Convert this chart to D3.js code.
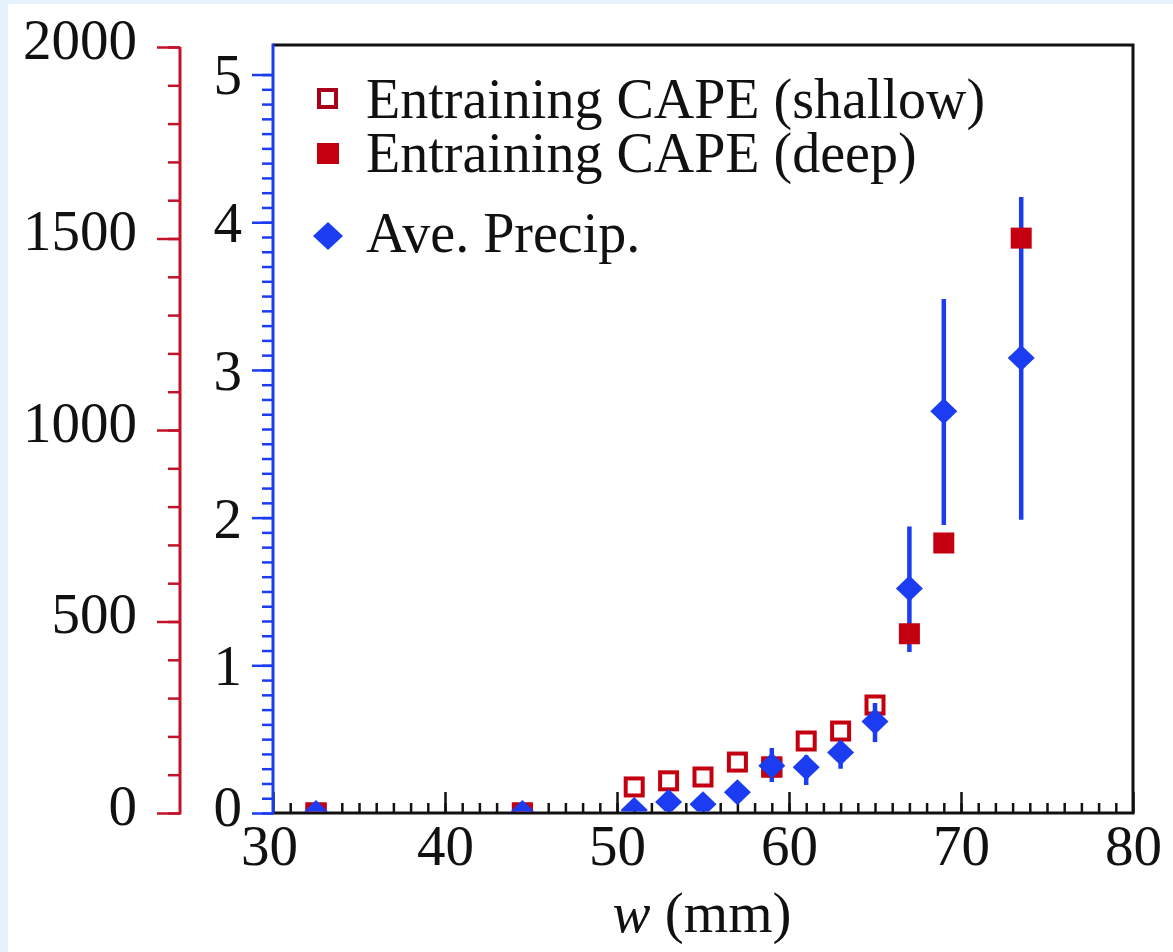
<!DOCTYPE html>
<html>
<head>
<meta charset="utf-8">
<script src="https://cdn.jsdelivr.net/npm/d3@7"></script>
<style>
html,body{margin:0;padding:0;background:#e6f3fc;}
svg{display:block;}
</style>
</head>
<body>
<svg id="chart" width="1173" height="952"></svg>
<script>
// ---- data ----
const wValues      = [32.5, 44.5, 51, 53, 55, 57, 59, 61, 63, 65, 67, 69, 73.5];
const shallowW     = [32.5, 44.5, 51, 53, 55, 57, 59, 61, 63, 65];
const shallowCape  = [0, 0, 68, 84, 94, 133, 120, 188, 214, 282];
const deepW        = [32.5, 44.5, 59, 67, 69, 73.5];
const deepCape     = [0, 0, 120, 468, 705, 1501];
const precip       = [0, 0, 0.02, 0.075, 0.06, 0.14, 0.32, 0.31, 0.41, 0.62, 1.52, 2.72, 3.08];
const precipLo     = [0, 0, 0.02, 0.075, 0.06, 0.14, 0.21, 0.19, 0.30, 0.48, 1.09, 1.95, 1.985];
const precipHi     = [0, 0, 0.02, 0.075, 0.06, 0.14, 0.44, 0.39, 0.49, 0.745, 1.94, 3.48, 4.17];
const xTicks       = [30, 40, 50, 60, 70, 80];
const capeTicks    = [0, 500, 1000, 1500, 2000];
const precipTicks  = [0, 1, 2, 3, 4, 5];
const legendLabels = ["Entraining CAPE (shallow)", "Entraining CAPE (deep)", "Ave. Precip."];

const RED = "#c40010", AXRED = "#c2132b", BLUE = "#1b3cf0";
const FONT = "'Liberation Serif','Times New Roman',serif";

const svg = d3.select("#chart");
svg.append("rect").attr("x", 8).attr("y", 4).attr("width", 1165).attr("height", 948).attr("fill", "#fff");

const L = 273, R = 1133, T = 45, B = 813;
const x = d3.scaleLinear().domain([30, 80]).range([L, R]);
const yP = d3.scaleLinear().domain([0, 5.2]).range([B, T]);
const yC = d3.scaleLinear().domain([0, 2000]).range([B, 47]);

// ---- red CAPE axis ----
const redG = svg.append("g").attr("transform", "translate(180,0)");
redG.call(d3.axisLeft(yC).tickValues(d3.range(0, 2001, 100)).tickSize(12).tickFormat("").tickSizeOuter(0));
redG.call(g => g.selectAll(".tick line").attr("stroke", AXRED).attr("stroke-width", 2.5));
const redMaj = svg.append("g").attr("transform", "translate(180,0)")
  .call(d3.axisLeft(yC).tickValues(capeTicks).tickSize(23).tickSizeOuter(0).tickPadding(20).tickFormat(d3.format("d")));
redMaj.selectAll(".tick line").attr("stroke", AXRED).attr("stroke-width", 2.5);
redMaj.selectAll(".tick text").attr("font-family", FONT).attr("font-size", 57).attr("fill", "#111").attr("dy", "0.2em");
svg.selectAll("g .domain").remove();
svg.append("line").attr("x1", 180).attr("x2", 180).attr("y1", 47).attr("y2", B + 1.5)
  .attr("stroke", AXRED).attr("stroke-width", 3);

// ---- blue precip axis ----
const blueMin = svg.append("g").attr("transform", `translate(${L},0)`)
  .call(d3.axisLeft(yP).tickValues(d3.range(0, 51).map(d => d / 10)).tickSize(11).tickFormat("").tickSizeOuter(0));
blueMin.selectAll(".tick line").attr("stroke", BLUE).attr("stroke-width", 2.5);
const blueMaj = svg.append("g").attr("transform", `translate(${L},0)`)
  .call(d3.axisLeft(yP).tickValues(precipTicks).tickSize(21).tickSizeOuter(0).tickPadding(10).tickFormat(d3.format("d")));
blueMaj.selectAll(".tick line").attr("stroke", BLUE).attr("stroke-width", 2.5);
blueMaj.selectAll(".tick text").attr("font-family", FONT).attr("font-size", 57).attr("fill", "#111")
  .attr("dy", d => d === 0 ? "0.22em" : "0.34em");
blueMin.select(".domain").remove(); blueMaj.select(".domain").remove();

// ---- x axis (ticks inward) ----
const xMin = svg.append("g").attr("transform", `translate(0,${B})`)
  .call(d3.axisTop(x).tickValues(d3.range(31, 80)).tickSize(10).tickFormat("").tickSizeOuter(0));
xMin.selectAll(".tick line").attr("stroke", "#111").attr("stroke-width", 2.5);
const xMaj = svg.append("g").attr("transform", `translate(0,${B})`)
  .call(d3.axisTop(x).tickValues(xTicks).tickSize(21).tickSizeOuter(0).tickFormat(""));
xMaj.selectAll(".tick line").attr("stroke", "#111").attr("stroke-width", 2.5);
const xLab = svg.append("g").attr("transform", `translate(0,${B})`)
  .call(d3.axisBottom(x).tickValues(xTicks).tickSize(0).tickSizeOuter(0).tickPadding(0).tickFormat(d3.format("d")));
xLab.selectAll(".tick text").attr("font-family", FONT).attr("font-size", 57).attr("fill", "#111")
  .attr("dy", null).attr("y", 52).attr("dx", d => d === 30 ? -4 : 0);
xMin.select(".domain").remove(); xMaj.select(".domain").remove(); xLab.select(".domain").remove();

// frame
svg.append("path").attr("d", `M${L},${T}H${R}V${B}H${L}`).attr("fill", "none")
  .attr("stroke", "#111").attr("stroke-width", 3);
svg.append("line").attr("x1", L).attr("x2", L).attr("y1", T - 1.5).attr("y2", B + 1.5)
  .attr("stroke", BLUE).attr("stroke-width", 3);

// x label
const xl = svg.append("text").attr("x", 702).attr("y", 932).attr("text-anchor", "middle")
  .attr("font-family", FONT).attr("font-size", 57).attr("fill", "#111");
xl.append("tspan").attr("font-style", "italic").text("w");
xl.append("tspan").text(" (mm)");

// ---- data marks ----
svg.append("clipPath").attr("id", "plotclip").append("rect")
  .attr("x", L + 1.5).attr("y", T).attr("width", R - L - 1.5).attr("height", B - T - 1.5);
const plot = svg.append("g").attr("clip-path", "url(#plotclip)");

const pData = wValues.map((w, i) => ({ w, v: precip[i], lo: precipLo[i], hi: precipHi[i] }));
plot.selectAll(".err").data(pData.filter(d => d.hi > d.lo)).join("line")
  .attr("x1", d => x(d.w)).attr("x2", d => x(d.w))
  .attr("y1", d => yP(d.lo)).attr("y2", d => yP(d.hi))
  .attr("stroke", BLUE).attr("stroke-width", 4.5);

const SQ = 21;
plot.selectAll(".sh").data(shallowW.map((w, i) => ({ w, v: shallowCape[i] }))).join("rect")
  .attr("x", d => x(d.w) - SQ / 2 + 2).attr("y", d => yC(d.v) - SQ / 2 + 2)
  .attr("width", SQ - 4).attr("height", SQ - 4)
  .attr("fill", "none").attr("stroke", RED).attr("stroke-width", 4);
plot.selectAll(".dp").data(deepW.map((w, i) => ({ w, v: deepCape[i] }))).join("rect")
  .attr("x", d => x(d.w) - SQ / 2).attr("y", d => yC(d.v) - SQ / 2)
  .attr("width", SQ).attr("height", SQ).attr("fill", RED);

const diamond = (w, h) => `M0,${-h}L${w},0L0,${h}L${-w},0Z`;
plot.selectAll(".dm").data(pData).join("path")
  .attr("transform", d => `translate(${x(d.w)},${yP(d.v)})`)
  .attr("d", diamond(13.5, 13)).attr("fill", BLUE);

// ---- legend ----
const leg = svg.append("g");
const legY = [118, 172, 252];
leg.append("rect").attr("x", 319).attr("y", 90).attr("width", 17).attr("height", 17)
  .attr("fill", "#fff").attr("stroke", "#a8001a").attr("stroke-width", 4);
leg.append("rect").attr("x", 317).attr("y", 143).attr("width", 22).attr("height", 21).attr("fill", RED);
leg.append("path").attr("transform", "translate(328,236)").attr("d", diamond(15, 14)).attr("fill", BLUE);
leg.selectAll(".lt").data(legendLabels).join("text")
  .attr("x", 366).attr("y", (d, i) => legY[i])
  .attr("font-family", FONT).attr("font-size", 56).attr("fill", "#111").text(d => d);
</script>
</body>
</html>
